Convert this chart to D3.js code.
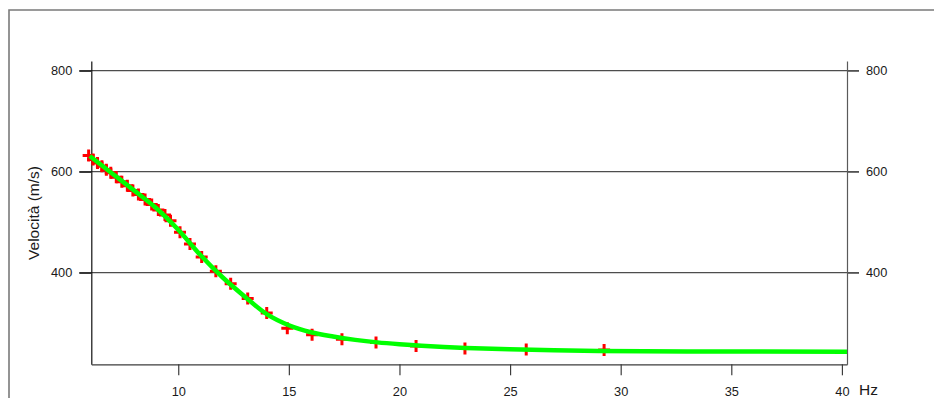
<!DOCTYPE html>
<html>
<head>
<meta charset="utf-8">
<script src="https://cdn.jsdelivr.net/npm/d3@7"></script>
<style>
  html, body { margin: 0; padding: 0; background: #fff; }
  svg { display: block; }
  text { font-family: "Liberation Sans", Arial, Helvetica, sans-serif; fill: #1a1a1a; }
</style>
</head>
<body>
<svg id="chart" width="934" height="398"></svg>
<script>
// Measured phase velocities (Hz, m/s)
const measFreq = [5.95, 6.15, 6.35, 6.55, 6.75, 6.95, 7.2, 7.45, 7.7, 7.95, 8.2, 8.5, 8.8, 9.1, 9.4, 9.65,
                  10.08, 10.53, 11.06, 11.70, 12.37, 13.14, 14.0, 14.93, 16.05, 17.4, 18.94, 20.75, 22.96, 25.73, 29.25];
const measVel  = [632, 624, 617, 611, 604, 598, 589, 580, 572, 563, 555, 545, 535, 524, 514, 503,
                  480, 457, 431, 403, 378, 349, 320, 290, 277, 268, 262, 255, 250, 248, 247];

// Fitted dispersion curve
const fitFreq = [6.0, 7, 8, 9, 10, 11, 12, 13, 14, 15, 16, 17, 18, 19, 20, 21, 23, 26, 29, 33, 40.23];
const fitVel  = [631, 597, 563, 528, 485, 435, 391, 353, 318, 296, 282, 273.5, 267, 262, 258.3, 255.3, 251, 247.2, 245, 244, 243.6];

const xTicks = [10, 15, 20, 25, 30, 35, 40];
const yTicks = [400, 600, 800];
const yTitle = "Velocità (m/s)";
const xTitle = "Hz";

const svg = d3.select("#chart");

const plotLeft = 91.3, plotRight = 847, plotTop = 61, plotBottom = 364.3;
const x = d3.scaleLinear().domain([6.07, 40.23]).range([plotLeft, plotRight]);
const y = d3.scaleLinear().domain([218.6, 819.2]).range([plotBottom, plotTop]);

// outer frame
svg.append("path")
  .attr("d", "M9,398V10H934")
  .attr("fill", "none")
  .attr("stroke", "#7a7a7a")
  .attr("stroke-width", 1.6);

// horizontal grid lines, spanning past both axes
svg.append("g").selectAll("line")
  .data(yTicks)
  .join("line")
  .attr("x1", plotLeft - 12).attr("x2", plotRight + 12)
  .attr("y1", d => y(d)).attr("y2", d => y(d))
  .attr("stroke", "#4d4d4d")
  .attr("stroke-width", 1.3);

function styleAxis(g, color) {
  g.selectAll("path.domain").attr("stroke", color).attr("stroke-width", 1.2);
  g.selectAll(".tick line").attr("stroke", color).attr("stroke-width", 1.2);
  g.selectAll(".tick text")
    .attr("font-family", "Liberation Sans, Arial, sans-serif")
    .attr("font-size", 12.8)
    .attr("fill", "#1a1a1a");
}

// left axis
const gL = svg.append("g")
  .attr("transform", `translate(${plotLeft},0)`)
  .call(d3.axisLeft(y).tickValues(yTicks).tickSizeInner(12).tickSizeOuter(0).tickPadding(7));
styleAxis(gL, "#111");

// right axis
const gR = svg.append("g")
  .attr("transform", `translate(${plotRight},0)`)
  .call(d3.axisRight(y).tickValues(yTicks).tickSizeInner(12).tickSizeOuter(0).tickPadding(7));
styleAxis(gR, "#5a5a5a");

// bottom axis
const gB = svg.append("g")
  .attr("transform", `translate(0,${plotBottom})`)
  .call(d3.axisBottom(x).tickValues(xTicks).tickSizeInner(11).tickSizeOuter(0).tickPadding(11.5));
styleAxis(gB, "#3c3c3c");

// axis titles
svg.append("text")
  .attr("transform", "translate(38.5,213) rotate(-90)")
  .attr("text-anchor", "middle")
  .attr("font-size", 15.5)
  .text(yTitle);

svg.append("text")
  .attr("x", 859).attr("y", 395)
  .attr("font-size", 15.5)
  .text(xTitle);

// measured points as red plus marks
const meas = measFreq.map((f, i) => ({ f, v: measVel[i] }));
svg.append("g").selectAll("path")
  .data(meas)
  .join("path")
  .attr("transform", d => `translate(${x(d.f)},${y(d.v)})`)
  .attr("d", "M-6,0H6M0,-6V6")
  .attr("stroke", "#ff0000")
  .attr("stroke-width", 3)
  .attr("fill", "none");

// fitted curve on top
const fit = fitFreq.map((f, i) => ({ f, v: fitVel[i] }));
svg.append("path")
  .datum(fit)
  .attr("d", d3.line().x(d => x(d.f)).y(d => y(d.v)).curve(d3.curveCatmullRom.alpha(0.5)))
  .attr("fill", "none")
  .attr("stroke", "#00ff00")
  .attr("stroke-width", 4.5)
  .attr("stroke-linejoin", "round");
</script>
</body>
</html>
